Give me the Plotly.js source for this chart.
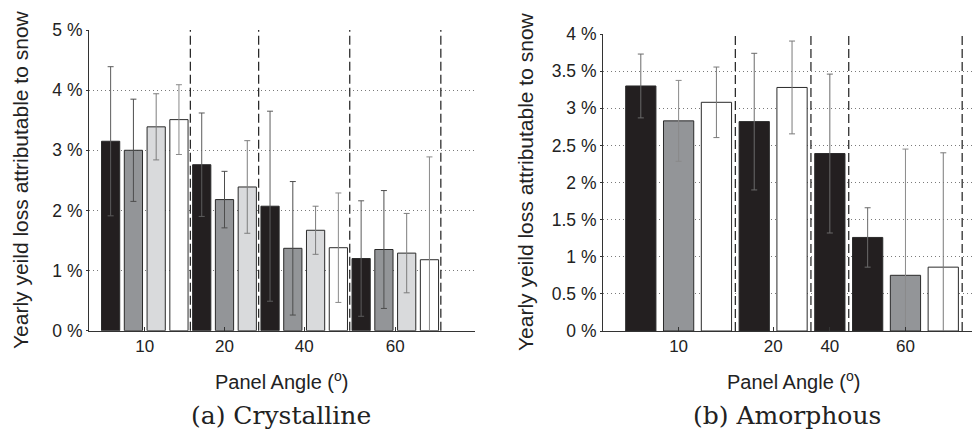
<!DOCTYPE html>
<html>
<head>
<meta charset="utf-8">
<script src="https://cdn.plot.ly/plotly-3.0.1.min.js"></script>
<style>html,body{margin:0;padding:0;background:#fff;}#chart{width:972px;height:432px;}</style>
</head>
<body>
<div id="chart"></div>
<script>
// ---- Data ----
const angles = ["10", "20", "40", "60"];

// (a) Crystalline  (null = no bar in that group)
const crysBlack    = [3.15, 2.76, 2.07, 1.20];
const crysBlackErr = [1.24, 0.86, 1.58, 0.96];
const crysGray     = [3.00, 2.18, 1.37, 1.35];
const crysGrayErr  = [0.85, 0.47, 1.11, 0.98];
const crysLight    = [3.39, 2.39, 1.67, 1.29];
const crysLightErr = [0.55, 0.77, 0.40, 0.66];
const crysWhite    = [3.51, null, 1.38, 1.18];
const crysWhiteErr = [0.58, null, 0.91, 1.71];

// (b) Amorphous
const amorBlack    = [3.30, 2.82, 2.39, 1.26];
const amorBlackErr = [0.43, 0.92, 1.07, 0.40];
const amorGray     = [2.83, null, null, 0.75];
const amorGrayErr  = [0.545, null, null, 1.70];
const amorWhite    = [3.08, 3.28, null, 0.86];
const amorWhiteErr = [0.475, 0.625, null, 1.54];

// ---- Styles ----
const FILL = {black: "#231f20", gray: "#939598", light: "#d9dadc", white: "#ffffff"};
const SANS = "Liberation Sans, Arial, Helvetica, sans-serif";

function buildPanel(series, xa, ya) {
  const traces = series.map(s => ({x: [], y: [], err: [], s: s}));
  const tickvals = [], dividers = [];
  let pos = 0;
  for (let g = 0; g < angles.length; g++) {
    let first = null, last = null;
    series.forEach((s, i) => {
      if (s.vals[g] !== null) {
        pos += 1;
        traces[i].x.push(pos);
        traces[i].y.push(s.vals[g]);
        traces[i].err.push(s.errs[g]);
        if (first === null) first = pos;
        last = pos;
      }
    });
    tickvals.push((first + last) / 2);
    dividers.push(last + 0.5);
  }
  const out = traces.map(t => ({
    type: "bar", x: t.x, y: t.y, width: 0.8,
    xaxis: xa, yaxis: ya, showlegend: false, hoverinfo: "skip",
    marker: {color: t.s.color, line: {color: "#2a2a2a", width: 1}},
    error_y: {type: "data", array: t.err, visible: true, color: t.s.errColor, thickness: 1, width: 3}
  }));
  return {traces: out, tickvals: tickvals, dividers: dividers};
}

const left = buildPanel([
  {vals: crysBlack, errs: crysBlackErr, color: FILL.black, errColor: "#5c5c5c"},
  {vals: crysGray,  errs: crysGrayErr,  color: FILL.gray,  errColor: "#4d4d4d"},
  {vals: crysLight, errs: crysLightErr, color: FILL.light, errColor: "#7d7d7d"},
  {vals: crysWhite, errs: crysWhiteErr, color: FILL.white, errColor: "#8a8a8a"}
], "x", "y");

const right = buildPanel([
  {vals: amorBlack, errs: amorBlackErr, color: FILL.black, errColor: "#6a6a6a"},
  {vals: amorGray,  errs: amorGrayErr,  color: FILL.gray,  errColor: "#8a8a8a"},
  {vals: amorWhite, errs: amorWhiteErr, color: FILL.white, errColor: "#7a7a7a"}
], "x2", "y2");

const px = v => v / 972;
const py = v => 1 - v / 432;

const shapes = [];
left.dividers.forEach(d => shapes.push({type: "line", xref: "x", yref: "y domain", x0: d, x1: d, y0: 0, y1: 1,
  line: {color: "#1e1e1e", width: 1.2, dash: "9px,4px"}, layer: "above"}));
right.dividers.forEach(d => shapes.push({type: "line", xref: "x2", yref: "y2 domain", x0: d, x1: d, y0: 0, y1: 1,
  line: {color: "#1e1e1e", width: 1.2, dash: "9px,4px"}, layer: "above"}));

const xBase = {
  showline: true, linecolor: "#333", linewidth: 1, showgrid: false, zeroline: false,
  ticks: "inside", ticklen: 4, tickcolor: "#333", tickfont: {family: SANS, size: 17, color: "#222"},
  fixedrange: true
};
const yBase = {
  showline: true, linecolor: "#333", linewidth: 1, zeroline: false,
  showgrid: true, gridcolor: "#7a7a7a", gridwidth: 1, griddash: "1px,3px",
  ticks: "outside", ticklen: 2, tickcolor: "#333", ticksuffix: " %",
  tickfont: {family: SANS, size: 17.5, color: "#222"}, fixedrange: true
};

const layout = {
  width: 972, height: 432,
  margin: {l: 0, r: 0, t: 0, b: 0},
  paper_bgcolor: "#fff", plot_bgcolor: "#fff",
  barmode: "overlay",
  showlegend: false,
  xaxis: Object.assign({}, xBase, {domain: [px(89), px(475)], range: [0.05, 17.0], anchor: "y",
    tickmode: "array", tickvals: left.tickvals, ticktext: angles}),
  yaxis: Object.assign({}, yBase, {domain: [py(330.7), py(30)], range: [0, 5], dtick: 1, anchor: "x"}),
  xaxis2: Object.assign({}, xBase, {domain: [px(603), 1], range: [0, 9.76], anchor: "y2",
    tickmode: "array", tickvals: right.tickvals, ticktext: angles}),
  yaxis2: Object.assign({}, yBase, {domain: [py(331), py(34)], range: [0, 4], dtick: 0.5, anchor: "x2"}),
  shapes: shapes,
  annotations: [
    {xref: "paper", yref: "paper", x: px(20), y: py(180), text: "Yearly yeild loss attributable to snow",
      textangle: -90, showarrow: false, xanchor: "center", yanchor: "middle",
      font: {family: SANS, size: 21, color: "#222"}},
    {xref: "paper", yref: "paper", x: px(525), y: py(182), text: "Yearly yeild loss attributable to snow",
      textangle: -90, showarrow: false, xanchor: "center", yanchor: "middle",
      font: {family: SANS, size: 21, color: "#222"}},
    {xref: "paper", yref: "paper", x: px(281), y: py(380), text: "Panel Angle (<sup>o</sup>)",
      showarrow: false, xanchor: "center", yanchor: "middle", font: {family: SANS, size: 20, color: "#222"}},
    {xref: "paper", yref: "paper", x: px(793), y: py(380), text: "Panel Angle (<sup>o</sup>)",
      showarrow: false, xanchor: "center", yanchor: "middle", font: {family: SANS, size: 20, color: "#222"}},
    {xref: "paper", yref: "paper", x: px(281), y: py(415), text: "(a) Crystalline",
      showarrow: false, xanchor: "center", yanchor: "middle", font: {family: "DejaVu Serif, serif", size: 25, color: "#222"}},
    {xref: "paper", yref: "paper", x: px(787), y: py(415), text: "(b) Amorphous",
      showarrow: false, xanchor: "center", yanchor: "middle", font: {family: "DejaVu Serif, serif", size: 25, color: "#222"}}
  ]
};

Plotly.newPlot("chart", left.traces.concat(right.traces), layout, {staticPlot: true, displayModeBar: false});
</script>
</body>
</html>
